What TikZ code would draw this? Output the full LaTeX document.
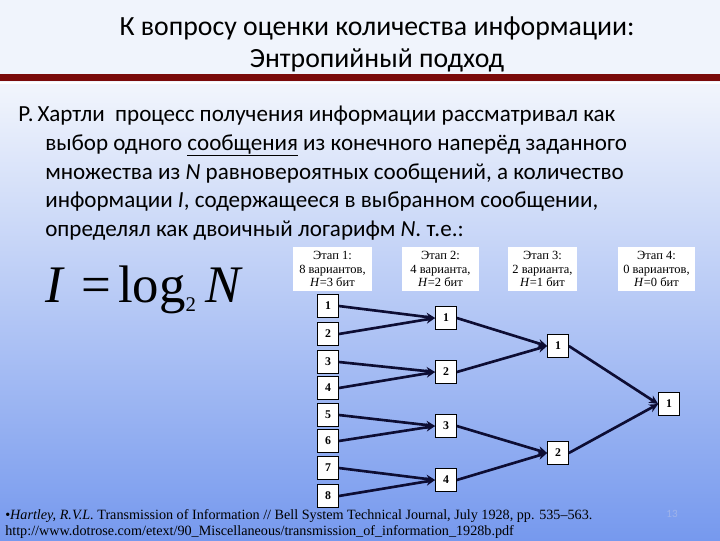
\documentclass[tikz,border=0pt]{standalone}
\usepackage{fontspec}
\setmainfont{Carlito}
\newfontfamily\timesfont{Liberation Serif}
\usetikzlibrary{arrows.meta}
\usetikzlibrary{positioning}
\definecolor{linkcol}{HTML}{0D0D33}
\definecolor{barcol}{HTML}{7A0A0A}
\definecolor{bgtop}{HTML}{F0F4FC}
\definecolor{bgmid}{HTML}{C2D3F7}
\definecolor{bgbot}{HTML}{7699EE}
\definecolor{pagecol}{HTML}{9FB3EA}
\tikzset{>={Stealth[length=6.5pt,width=6pt]}}
\tikzset{
    numbox/.style={draw=black, line width=0.6pt, fill=white, minimum width=15pt,
        minimum height=16pt, inner sep=0pt, font=\timesfont\bfseries\fontsize{8.5}{10}\selectfont},
    stagebox/.style={fill=white, minimum height=32pt, inner sep=1pt, align=center,
        font=\timesfont\fontsize{9}{10}\selectfont},
    link/.style={->, line width=1.9pt, draw=linkcol},
    titleline/.style={anchor=base, inner sep=0pt, font=\fontsize{20}{24}\selectfont},
    bodyline/.style={anchor=base west, inner sep=0pt, font=\fontsize{16.6}{20}\selectfont},
    refline/.style={anchor=base west, inner sep=0pt, font=\timesfont\fontsize{10.2}{12}\selectfont},
}

\begin{document}
\begin{tikzpicture}[x=0.72pt, y=-0.72pt]
		\useasboundingbox (0,0) rectangle (720,540);
		% background and bar
		\fill[bgtop] (0,0) rectangle (720,90);
		\shade[top color=bgtop, middle color=bgmid, bottom color=bgbot] (0,90) rectangle (720,540);
		\fill[barcol] (0,74) rectangle (720,81);
		\fill[white] (0,82) rectangle (720,83.5);
		% title
		\node[titleline] (title1) at (377,35) {К вопросу оценки количества информации:};
		\node[titleline] (title2) at (377,67) {Энтропийный подход};
		% text
		\node[bodyline] (line1) at (18,121) {Р.\,Хартли\ \ процесс получения информации рассматривал как};
		\node[bodyline] (line2) at (45,150) {выбор одного \underline{сообщения} из конечного наперёд заданного};
		\node[bodyline] (line3) at (45,179) {множества из \textit{N} равновероятных сообщений, а количество};
		\node[bodyline] (line4) at (45,207) {информации \textit{I}, содержащееся в выбранном сообщении,};
		\node[bodyline] (line5) at (45,236) {определял как двоичный логарифм \textit{N}. т.е.:};
		% formula
		\node[anchor=base west, inner sep=0pt, font=\timesfont\fontsize{38}{40}\selectfont] (formula) at (45,302)
			{\textit{I}\hspace{12pt}=\hspace{5pt}log\raisebox{-7pt}{\fontsize{15}{15}\selectfont 2}\hspace{7pt}\textit{N}};
		% stages
		\node[stagebox, minimum width=57pt] (stage1) at (332.5,269) {Этап 1:\\8 вариантов,\\\textit{H}=3 бит};
		\node[stagebox, minimum width=55pt] (stage2) at (440.5,269) {Этап 2:\\4 варианта,\\\textit{H}=2 бит};
		\node[stagebox, minimum width=50pt] (stage3) at (542.5,269) {Этап 3:\\2 варианта,\\\textit{H}=1 бит};
		\node[stagebox, minimum width=55pt] (stage4) at (656.5,269) {Этап 4:\\0 вариантов,\\\textit{H}=0 бит};
		% first column
		\node[numbox] (a1) at (328,306) {1};
		\node[numbox] (a2) at (328,334) {2};
		\node[numbox] (a3) at (328,362) {3};
		\node[numbox] (a4) at (328,388) {4};
		\node[numbox] (a5) at (328,415) {5};
		\node[numbox] (a6) at (328,441) {6};
		\node[numbox] (a7) at (328,468) {7};
		\node[numbox] (a8) at (328,496) {8};
		% second column
		\node[numbox] (b1) at (446,318) {1};
		\node[numbox] (b2) at (446,372) {2};
		\node[numbox] (b3) at (446,426) {3};
		\node[numbox] (b4) at (446,480) {4};
		% third and fourth
		\node[numbox] (c1) at (558,346) {1};
		\node[numbox] (c2) at (558,453) {2};
		\node[numbox] (d1) at (669,404) {1};
		% links
		\draw[link] (a1.east) -- (b1.west);
		\draw[link] (a2.east) -- (b1.west);
		\draw[link] (a3.east) -- (b2.west);
		\draw[link] (a4.east) -- (b2.west);
		\draw[link] (a5.east) -- (b3.west);
		\draw[link] (a6.east) -- (b3.west);
		\draw[link] (a7.east) -- (b4.west);
		\draw[link] (a8.east) -- (b4.west);
		\draw[link] (b1.east) -- (c1.west);
		\draw[link] (b2.east) -- (c1.west);
		\draw[link] (b3.east) -- (c2.west);
		\draw[link] (b4.east) -- (c2.west);
		\draw[link] (c1.east) -- (d1.west);
		\draw[link] (c2.east) -- (d1.west);
		% reference
		\node[refline] (ref1) at (5,519) {•\textit{Hartley, R.V.L.} Transmission of Information // Bell System Technical Journal, July 1928, pp. 535–563.};
		\node[refline] (ref2) at (5,535) {http://www.dotrose.com/etext/90\_Miscellaneous/transmission\_of\_information\_1928b.pdf};
		\node[font=\fontsize{8}{8}\selectfont, text=pagecol, inner sep=0pt] (pagenum) at (672,514) {13};
	\end{tikzpicture}
\end{document}
